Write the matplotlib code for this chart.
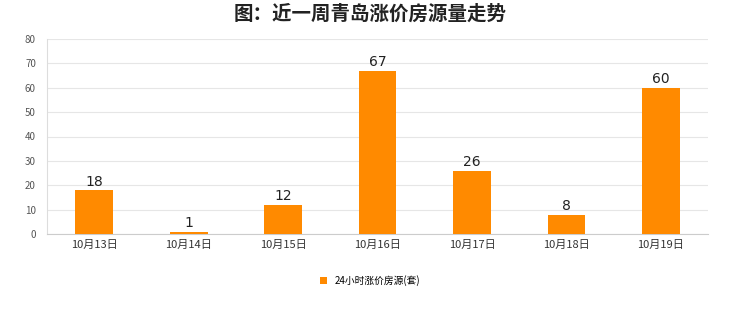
import matplotlib.pyplot as plt
import numpy as np

plt.rcParams['font.family'] = ['Noto Sans CJK SC', 'DejaVu Sans']

dates = ['10月13日', '10月14日', '10月15日', '10月16日', '10月17日', '10月18日', '10月19日']
values = [18, 1, 12, 67, 26, 8, 60]
series_name = '24小时涨价房源(套)'
title = '图：近一周青岛涨价房源量走势'

fig = plt.figure(figsize=(7.4, 3.12), dpi=100)
ax = fig.add_axes([0.0635, 0.25, 0.8935, 0.625])

x = np.arange(len(dates))
ax.bar(x, values, width=0.4, color='#FF8A00', label=series_name, zorder=3)
for xi, v in zip(x, values):
    ax.text(xi, v + 0.6, str(v), ha='center', va='bottom', fontsize=10,
            family=['DejaVu Sans'], color='#222222', zorder=4)

ax.set_xlim(-0.5, len(dates) - 0.5)
ax.set_ylim(0, 80)
ax.set_yticks(range(0, 81, 10))
ax.set_xticks(x)
ax.set_xticklabels(dates, fontsize=8, color='#333333')
ax.tick_params(axis='y', labelsize=7, colors='#555555', length=0, pad=8)
ax.tick_params(axis='x', length=0, pad=4)
ax.grid(axis='y', color='#e6e6e6', linewidth=0.8, zorder=0)
for s in ['top', 'right']:
    ax.spines[s].set_visible(False)
ax.spines['left'].set_color('#dddddd')
ax.spines['bottom'].set_color('#cccccc')

fig.suptitle(title, fontsize=14, fontweight='bold', y=0.985, color='#222222')
fig.legend(loc='center', bbox_to_anchor=(0.5, 0.1), frameon=False, fontsize=7,
           handlelength=0.7, handleheight=0.7)

fig.savefig('out.png')
